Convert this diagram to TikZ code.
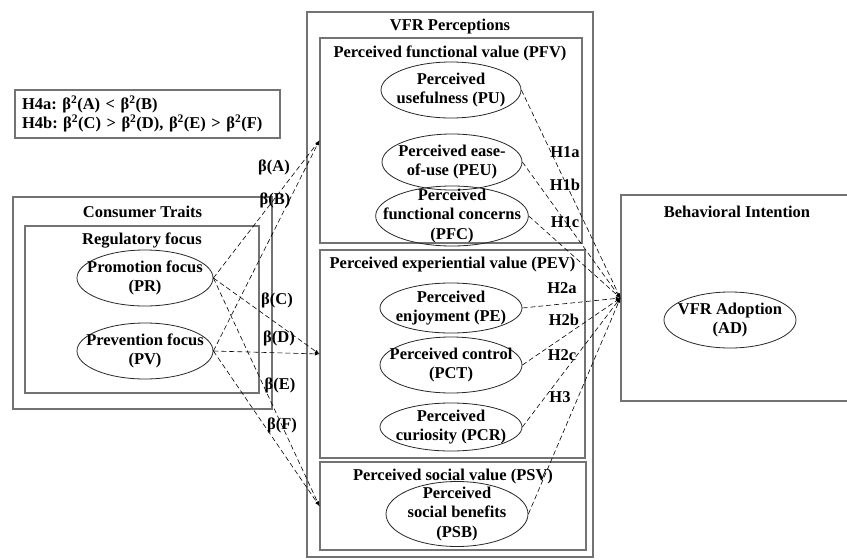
\documentclass[tikz,border=0pt]{standalone}
\usepackage{fontspec}
\setmainfont{Liberation Serif}
\usetikzlibrary{arrows,shapes.geometric,calc}
\frenchspacing

\begin{document}
\begin{tikzpicture}[x=1pt,y=-1pt,
        font=\bfseries\fontsize{16.5}{19.5}\selectfont,
        box/.style={draw=black!55,line width=1.2pt,inner sep=0pt},
        var/.style={draw=black!85,line width=0.8pt,ellipse,align=center,inner sep=-15pt,minimum width=140pt,minimum height=56pt},
        hyp/.style={-latex,line width=0.6pt,dash pattern=on 5pt off 3pt}]
            \useasboundingbox (0,0) rectangle (847,560);
            \node[box,minimum width=265pt,minimum height=48pt,text width=251pt,inner xsep=7pt,align=left] (H4) at (147.5,114) {H4a: β\textsuperscript{2}(A) < β\textsuperscript{2}(B)\\H4b: β\textsuperscript{2}(C) > β\textsuperscript{2}(D), β\textsuperscript{2}(E) > β\textsuperscript{2}(F)};
            \node[box,minimum width=259pt,minimum height=212pt] (CT) at (142.5,303) {};
            \node (CTtitle) at (142.5,212) {Consumer Traits};
            \node[box,minimum width=234pt,minimum height=167pt] (RF) at (142,309.5) {};
            \node (RFtitle) at (142,241) {Regulatory focus};
            \node[var,minimum width=136pt] (PR) at (145,278) {Promotion focus\\(PR)};
            \node[var,minimum width=136pt] (PV) at (145,351) {Prevention focus\\(PV)};
            \node[box,minimum width=286pt,minimum height=545pt] (VFR) at (450,284.5) {};
            \node (VFRtitle) at (450,27) {VFR Perceptions};
            \node[box,minimum width=262pt,minimum height=205pt] (PFV) at (451,140.5) {};
            \node (PFVtitle) at (450,53) {Perceived functional value (PFV)};
            \node[var] (PU) at (451,90) {Perceived\\usefulness (PU)};
            \node[var] (PEU) at (452,162) {Perceived ease-\\of-use (PEU)};
            \node[var,minimum height=60pt] (PFC) at (452,216) {Perceived\\functional concerns\\(PFC)};
            \node[box,minimum width=265pt,minimum height=208pt] (PEV) at (452.5,354) {};
            \node (PEVtitle) at (452.5,265) {Perceived experiential value (PEV)};
            \node[var,minimum width=142pt,minimum height=50pt] (PE) at (451,308) {Perceived\\enjoyment (PE)};
            \node[var,minimum width=142pt] (PCT) at (451,365) {Perceived control\\(PCT)};
            \node[var,minimum width=142pt,minimum height=48pt] (PCR) at (451,427) {Perceived\\curiosity (PCR)};
            \node[box,minimum width=266pt,minimum height=88pt] (PSV) at (453,506) {};
            \node (PSVtitle) at (453,477) {Perceived social value (PSV)};
            \node[var,minimum width=142pt,minimum height=65pt] (PSB) at (457,514) {Perceived\\social benefits\\(PSB)};
            \node[box,minimum width=240pt,minimum height=206pt] (BI) at (741,298) {};
            \node (BItitle) at (737,212) {Behavioral Intention};
            \node[var,minimum width=132pt] (AD) at (730,320) {VFR Adoption\\(AD)};
            \draw[hyp] (PR.east) -- (PFV.west);
            \draw[hyp] (PV.east) -- (PFV.west);
            \draw[hyp] (PR.east) -- (PEV.west);
            \draw[hyp] (PV.east) -- (PEV.west);
            \draw[hyp] (PR.east) -- (PSV.west);
            \draw[hyp] (PV.east) -- (PSV.west);
            \draw[hyp] (PU.east) -- (BI.west);
            \draw[hyp] (PEU.east) -- (BI.west);
            \draw[hyp] (PFC.east) -- (BI.west);
            \draw[hyp] (PE.east) -- (BI.west);
            \draw[hyp] (PCT.east) -- (BI.west);
            \draw[hyp] (PCR.east) -- (BI.west);
            \draw[hyp] (PSB.east) -- (BI.west);
            \node (bA) at (274,167) {β(A)};
            \node (bB) at (275,200) {β(B)};
            \node (bC) at (277,300) {β(C)};
            \node (bD) at (279,338) {β(D)};
            \node (bE) at (280,385) {β(E)};
            \node (bF) at (282,425) {β(F)};
            \node (H1a) at (565,152) {H1a};
            \node (H1b) at (565,185) {H1b};
            \node (H1c) at (565,222) {H1c};
            \node (H2a) at (562,288) {H2a};
            \node (H2b) at (564,320) {H2b};
            \node (H2c) at (562,355) {H2c};
            \node (H3) at (560,397) {H3};
        \end{tikzpicture}
\end{document}
